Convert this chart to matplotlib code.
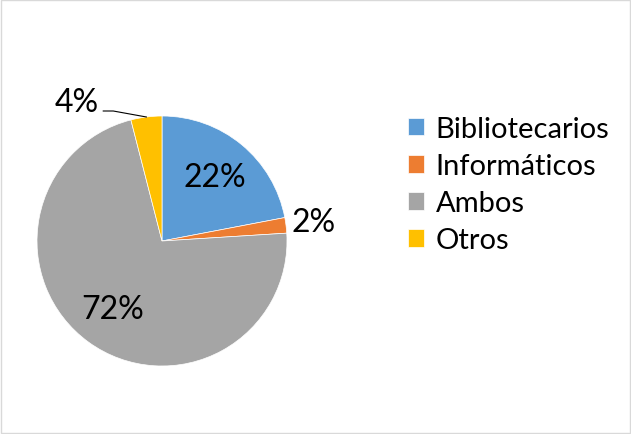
import numpy as np
import matplotlib
matplotlib.use('Agg')
import matplotlib.pyplot as plt
from matplotlib.patches import Rectangle

categories = ['Bibliotecarios', 'Informáticos', 'Ambos', 'Otros']
values = [22, 2, 72, 4]
colors = ['#5B9BD5', '#ED7D31', '#A5A5A5', '#FFC000']

plt.rcParams['font.family'] = ['Lato', 'DejaVu Sans']

W, H = 631, 435
fig = plt.figure(figsize=(W / 100, H / 100), dpi=100)

# pie axes: centre (162, 242) px, radius 125 px
cx, cy, r = 162, 242, 125
ax = fig.add_axes([(cx - r) / W, (H - cy - r) / H, 2 * r / W, 2 * r / H])
wedges, _ = ax.pie(values, colors=colors, startangle=90, counterclock=False,
                   wedgeprops=dict(linewidth=0.5, edgecolor='white'))
ax.set_xlim(-1, 1)
ax.set_ylim(-1, 1)
ax.set_aspect('equal')

total = sum(values)
cum = np.cumsum([0] + values)
mid = [90 - (cum[i] + values[i] / 2) / total * 360 for i in range(len(values))]

def pt(ang, rad):
    a = np.deg2rad(ang)
    return rad * np.cos(a), rad * np.sin(a)

fs = 23
# inside labels
for i, rad in [(0, 0.66), (2, 0.67)]:
    x, y = pt(mid[i], rad)
    ax.text(x, y, f'{values[i]}%', ha='center', va='center', fontsize=fs)
# 2% outside
x, y = pt(mid[1], 1.22)
ax.text(x, y, f'{values[1]}%', ha='center', va='center', fontsize=fs)
# 4% with leader line
ex, ey = pt(mid[3], 1.0)
ax.plot([ex, -0.39, -0.47], [ey, 1.04, 1.04], color='black', lw=0.8, clip_on=False)
ax.text(-0.68, 1.11, f'{values[3]}%', ha='center', va='center', fontsize=fs)

leg = fig.legend(wedges, categories, loc='upper left', bbox_to_anchor=(408 / W, 1 - 117 / H),
                 frameon=False, fontsize=21, handlelength=0.55, handleheight=0.55,
                 handletextpad=0.4, labelspacing=0.38, borderaxespad=0, borderpad=0)

fig.patches.append(Rectangle((1 / W, 1 / H), 1 - 2 / W, 1 - 2 / H, transform=fig.transFigure,
                             fill=False, edgecolor='#D9D9D9', lw=1))

fig.savefig('out.png', dpi=100)
